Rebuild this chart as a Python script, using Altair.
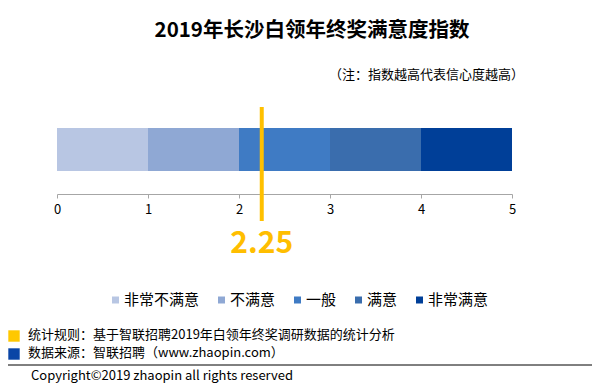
import altair as alt
import pandas as pd

FONT = "Noto Sans CJK SC"

# ---- data ----
categories = ["非常不满意", "不满意", "一般", "满意", "非常满意"]
seg_start = [0, 1, 2, 3, 4]
seg_end = [1, 2, 3, 4, 5]
seg_colors = ["#B8C6E3", "#8FA8D4", "#3F7BC4", "#3A6DAD", "#003F98"]
index_value = [2.25]
index_label = ["2.25"]
tick_values = [0, 1, 2, 3, 4, 5]

title_text = ["2019年长沙白领年终奖满意度指数"]
note_text = ["（注：指数越高代表信心度越高）"]
footer_texts = ["统计规则：基于智联招聘2019年白领年终奖调研数据的统计分析",
                "数据来源：智联招聘（www.zhaopin.com）"]
footer_colors = ["#FFC800", "#0A45A6"]
copyright_text = ["Copyright©2019  zhaopin all rights reserved"]

W, H = 584, 375
LEG_FS = 15

bars_df = pd.DataFrame({"cat": categories, "start": seg_start, "end": seg_end})
idx_df = pd.DataFrame({"v": index_value, "label": index_label})

# legend layout computed from label lengths (square, gap, label, column gap)
leg_sq_x, leg_tx_x = [], []
cursor = 104
for c in categories:
    leg_sq_x.append(cursor + 3.5)
    leg_tx_x.append(cursor + 12)
    cursor = cursor + 12 + LEG_FS * len(c) + 19
leg_df = pd.DataFrame({"cat": categories, "sx": leg_sq_x, "tx": leg_tx_x})

xscale = alt.Scale(domain=[0, 5], range=[49, 504])
cscale = alt.Scale(domain=categories, range=seg_colors)

bars = alt.Chart(bars_df).mark_bar(opacity=1).encode(
    x=alt.X("start:Q", scale=xscale,
            axis=alt.Axis(values=tick_values, format="d", orient="bottom", offset=-189,
                          grid=False, domainColor="#A6A6A6", tickColor="#A6A6A6",
                          tickSize=4, labelFontSize=13, labelFont=FONT, labelColor="#000000",
                          labelPadding=5, labelFlush=False, title=None)),
    x2="end:Q",
    y=alt.value(120),
    y2=alt.value(163),
    color=alt.Color("cat:N", scale=cscale, legend=None),
)

leg_sq = alt.Chart(leg_df).mark_square(size=49, opacity=1).encode(
    x=alt.X("sx:Q", scale=None),
    y=alt.value(292),
    color=alt.Color("cat:N", scale=cscale, legend=None),
)

leg_tx = alt.Chart(leg_df).mark_text(
    fontSize=LEG_FS, font=FONT, color="#000000", align="left", baseline="middle").encode(
    x=alt.X("tx:Q", scale=None),
    y=alt.value(292),
    text="cat:N",
)

idx_rule = alt.Chart(idx_df).mark_rule(color="#FFC000", strokeWidth=4).encode(
    x=alt.X("v:Q", scale=xscale),
    y=alt.value(99),
    y2=alt.value(213),
)

idx_text = alt.Chart(idx_df).mark_text(color="#FFBE00", fontSize=30, fontWeight="bold",
                                       font=FONT, baseline="middle", align="center").encode(
    x=alt.X("v:Q", scale=xscale),
    y=alt.value(236),
    text="label:N",
)

title = alt.Chart(pd.DataFrame({"t": title_text})).mark_text(
    fontSize=20.5, fontWeight="bold", font=FONT, color="#000000", align="center",
    baseline="middle").encode(x=alt.value(304), y=alt.value(23), text="t:N")

note = alt.Chart(pd.DataFrame({"t": note_text})).mark_text(
    fontSize=13, font=FONT, color="#000000", align="right",
    baseline="middle").encode(x=alt.value(516), y=alt.value(67), text="t:N")

foot_df = pd.DataFrame({"t": footer_texts, "c": footer_colors, "row": [0, 1]})
row_scale = alt.Scale(domain=[0, 1], range=[328, 346])

foot_sq = alt.Chart(foot_df).mark_square(size=130, opacity=1).encode(
    x=alt.value(6),
    y=alt.Y("row:Q", scale=row_scale, axis=None),
    color=alt.Color("c:N", scale=None),
)

foot_txt = alt.Chart(foot_df).mark_text(
    fontSize=13, font=FONT, color="#000000", align="left", baseline="middle", dy=-1).encode(
    x=alt.value(20),
    y=alt.Y("row:Q", scale=row_scale, axis=None),
    text="t:N",
)

sep = alt.Chart(pd.DataFrame({"a": [0]})).mark_rule(color="#000000", strokeWidth=1).encode(
    x=alt.value(0), x2=alt.value(584), y=alt.value(357))

copy_ = alt.Chart(pd.DataFrame({"t": copyright_text})).mark_text(
    fontSize=13, font=FONT, color="#000000", align="left", baseline="middle").encode(
    x=alt.value(23), y=alt.value(368), text="t:N")

chart = alt.layer(bars, leg_sq, leg_tx, idx_rule, idx_text, title, note,
                  foot_sq, foot_txt, sep, copy_).resolve_scale(
    y="shared", color="independent"
).properties(
    width=W, height=H, autosize=alt.AutoSizeParams(type="none"), padding=0,
    background="#FFFFFF"
).configure_view(strokeWidth=0)

chart.save("out.html", embed_options={"renderer": "svg", "actions": False})
